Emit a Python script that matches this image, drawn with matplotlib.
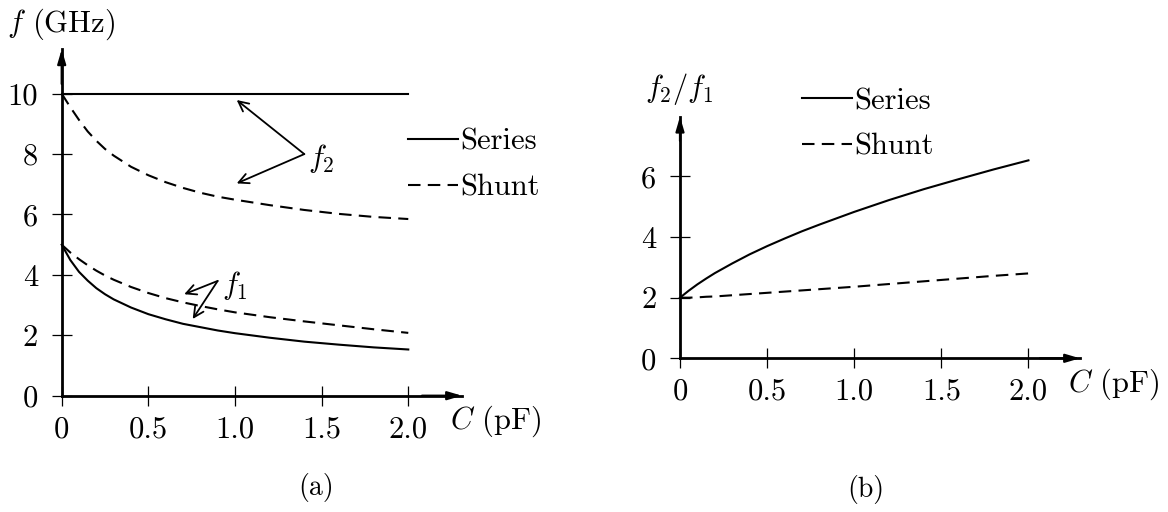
import matplotlib
matplotlib.use("Agg")
import matplotlib.pyplot as plt

plt.rcParams['font.family'] = 'cmr10'
plt.rcParams['mathtext.fontset'] = 'cm'
plt.rcParams['axes.formatter.use_mathtext'] = True
plt.rcParams['font.size'] = 22

# capacitance grid (pF)
cap = [0, 0.05, 0.1, 0.15, 0.2, 0.25, 0.3, 0.4, 0.5, 0.6, 0.7, 0.8, 0.9,
       1.0, 1.2, 1.4, 1.6, 1.8, 2.0]

# (a) resonant frequencies, GHz
series_f2 = [10.0] * len(cap)
series_f1 = [5.00, 4.49, 4.10, 3.81, 3.56, 3.36, 3.19, 2.92, 2.70, 2.53, 2.38,
             2.27, 2.16, 2.07, 1.92, 1.79, 1.69, 1.60, 1.53]
shunt_f2 = [10.0, 9.55, 9.13, 8.75, 8.44, 8.17, 7.95, 7.58, 7.30, 7.07, 6.88,
            6.72, 6.59, 6.49, 6.31, 6.15, 6.02, 5.92, 5.85]
shunt_f1 = [5.00, 4.74, 4.52, 4.32, 4.14, 3.98, 3.84, 3.60, 3.40, 3.23, 3.09,
            2.97, 2.86, 2.76, 2.60, 2.46, 2.33, 2.20, 2.08]

# (b) ratio f2/f1
series_ratio = [2.00, 2.23, 2.44, 2.63, 2.81, 2.97, 3.13, 3.43, 3.70, 3.95, 4.19,
                4.41, 4.62, 4.83, 5.22, 5.58, 5.91, 6.23, 6.53]
shunt_ratio = [2.00, 2.00, 2.01, 2.03, 2.04, 2.06, 2.08, 2.12, 2.16, 2.20, 2.24,
               2.28, 2.32, 2.36, 2.45, 2.54, 2.63, 2.72, 2.80]

xticks = [0, 0.5, 1.0, 1.5, 2.0]
xtick_labels = ['0', '0.5', '1.0', '1.5', '2.0']
yticks_a = [0, 2, 4, 6, 8, 10]
yticks_b = [0, 2, 4, 6]

W, H = 1168, 512
DASH = (0, (6, 3.5))
LW = 1.5


def box(left, top, right, bottom):
    return [left / W, 1 - bottom / H, (right - left) / W, (bottom - top) / H]


def fig_xy(x, y):
    return x / W, 1 - y / H


def style_axes(ax, xmax, ymax, yticks):
    ax.set_xlim(0, xmax)
    ax.set_ylim(0, ymax)
    for s in ['top', 'right']:
        ax.spines[s].set_visible(False)
    for s in ['left', 'bottom']:
        ax.spines[s].set_linewidth(2.0)
    ax.set_xticks(xticks)
    ax.set_xticklabels(xtick_labels)
    ax.set_yticks(yticks)
    ax.set_yticklabels([str(t) for t in yticks])
    ax.tick_params(axis='x', direction='inout', length=15, width=0.9, pad=7)
    ax.tick_params(axis='y', direction='inout', length=15, width=0.9, pad=9.5)
    ax.patch.set_visible(False)
    head = dict(arrowstyle='-|>,head_length=0.95,head_width=0.28', lw=1.6,
                color='k', shrinkA=0, shrinkB=0, mutation_scale=9)
    ax.annotate('', xy=(1, 0), xycoords='axes fraction', xytext=(0.9, 0),
                arrowprops=head, annotation_clip=False)
    ax.annotate('', xy=(0, 1), xycoords='axes fraction', xytext=(0, 0.9),
                arrowprops=head, annotation_clip=False)


def pointer(ax, label, start, ends):
    arr = dict(arrowstyle='->,head_length=0.9,head_width=0.45', lw=1.3,
               color='k', shrinkA=0, shrinkB=0, mutation_scale=8)
    for e in ends:
        ax.annotate('', xy=e, xytext=start, arrowprops=arr)
    ax.annotate(label, xy=start, xytext=(3, -3), textcoords='offset points',
                ha='left', va='center')


fig = plt.figure(figsize=(W / 100, H / 100), dpi=100)

# panel (a)
ax1 = fig.add_axes(box(61.7, 49.3, 462, 395.7))
ax1.plot(cap, series_f2, color='k', lw=LW, label='Series', clip_on=False)
ax1.plot(cap, series_f1, color='k', lw=LW, clip_on=False)
ax1.plot(cap, shunt_f2, color='k', lw=LW, ls=DASH, label='Shunt', clip_on=False)
ax1.plot(cap, shunt_f1, color='k', lw=LW, ls=DASH, clip_on=False)
style_axes(ax1, 2.31, 11.47, yticks_a)
pointer(ax1, r'$f_2$', (1.40, 8.0), [(1.01, 9.79), (1.01, 7.03)])
pointer(ax1, r'$f_1$', (0.90, 3.80), [(0.707, 3.36), (0.756, 2.54)])
ax1.legend(loc='center left', bbox_to_anchor=fig_xy(408.3, 165),
           bbox_transform=fig.transFigure, frameon=False, borderpad=0,
           borderaxespad=0, handlelength=1.63, handletextpad=0.07,
           labelspacing=0.6)
fig.text(*fig_xy(7.3, 31.7), r'$f$ (GHz)', ha='left', va='baseline')
fig.text(*fig_xy(450, 428.3), r'$C$ (pF)', ha='left', va='baseline')
fig.text(*fig_xy(315.7, 488), '(a)', ha='center', va='center', fontsize=20)

# panel (b)
ax2 = fig.add_axes(box(680, 116.7, 1080, 358.3))
ax2.plot(cap, series_ratio, color='k', lw=LW, label='Series', clip_on=False)
ax2.plot(cap, shunt_ratio, color='k', lw=LW, ls=DASH, label='Shunt',
         clip_on=False)
style_axes(ax2, 2.296, 7.97, yticks_b)
ax2.legend(loc='center left', bbox_to_anchor=fig_xy(802, 124.2),
           bbox_transform=fig.transFigure, frameon=False, borderpad=0,
           borderaxespad=0, handlelength=1.63, handletextpad=0.07,
           labelspacing=0.6)
fig.text(*fig_xy(645.5, 97), r'$f_2/f_1$', ha='left', va='baseline')
fig.text(*fig_xy(1068, 391.5), r'$C$ (pF)', ha='left', va='baseline')
fig.text(*fig_xy(865.4, 490), '(b)', ha='center', va='center', fontsize=20)

fig.savefig('out.png', dpi=100)
